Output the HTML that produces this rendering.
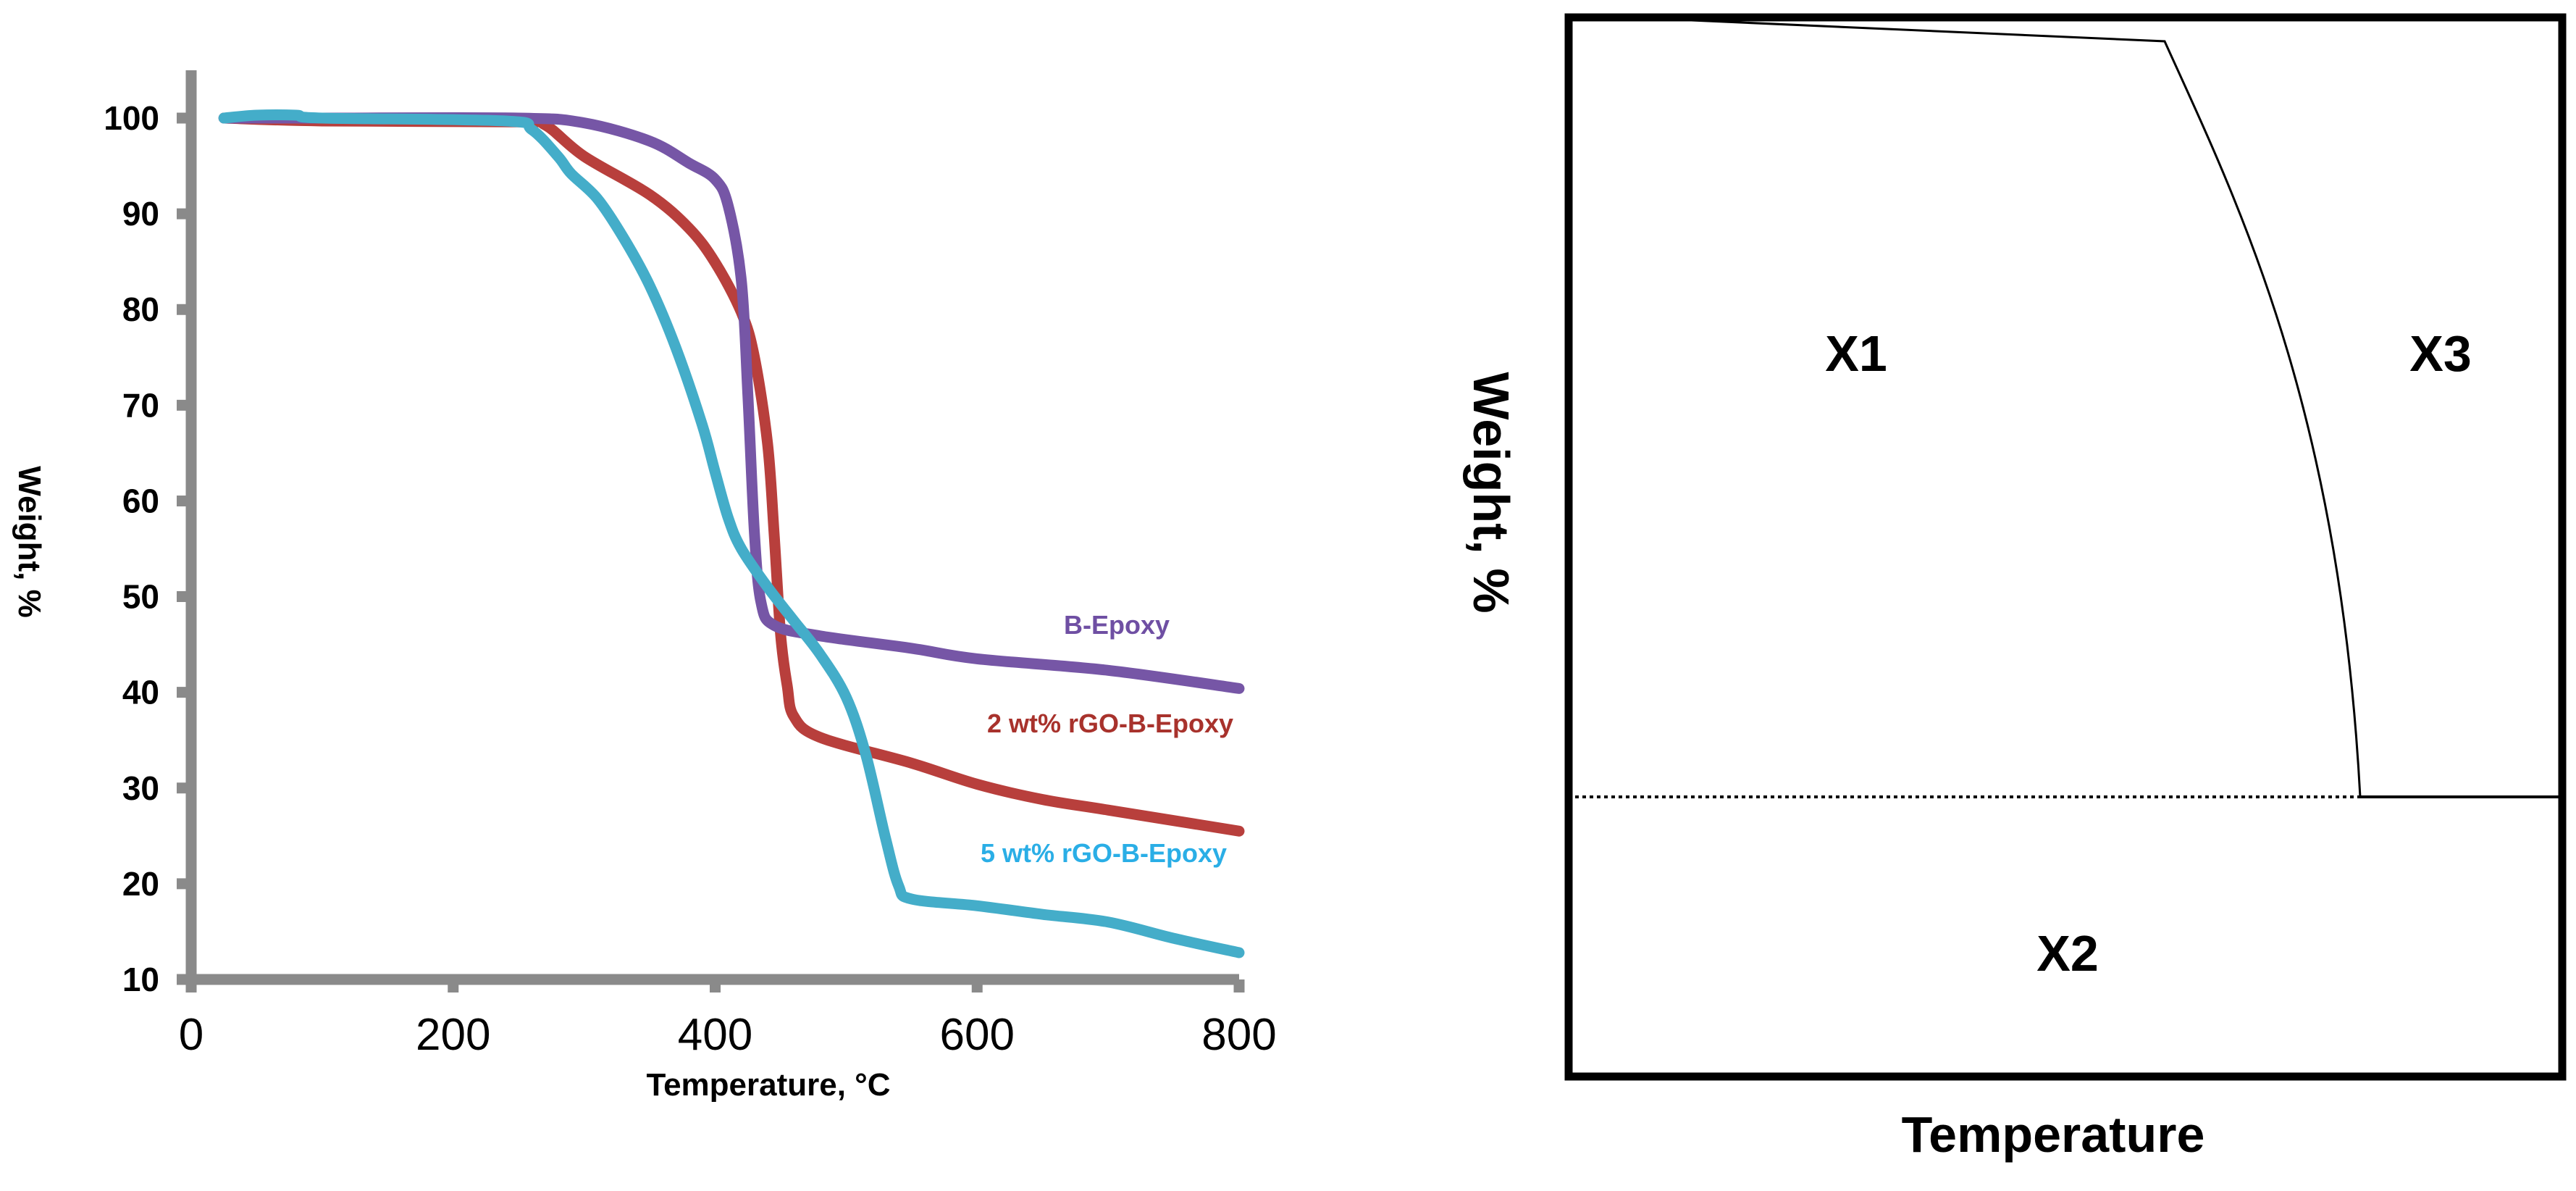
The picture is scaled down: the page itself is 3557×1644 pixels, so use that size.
<!DOCTYPE html>
<html><head><meta charset="utf-8"><style>
html,body{margin:0;padding:0;background:#fff;}
svg{display:block;font-family:"Liberation Sans",Arial,sans-serif;}
</style></head><body>
<svg id="fig" width="3557" height="1644" viewBox="0 0 3557 1644">
<g id="left"></g>
<g id="right">
  <rect x="2166" y="24" width="1372" height="1462" fill="none" stroke="#000" stroke-width="11"/>
  <path d="M2313,27 L2989,57 C3090,280 3230,560 3259,1100" fill="none" stroke="#000" stroke-width="3"/>
  <line x1="3259" y1="1100" x2="3533" y2="1100" stroke="#000" stroke-width="4"/>
  <line x1="2175" y1="1100" x2="3259" y2="1100" stroke="#000" stroke-width="4" stroke-dasharray="5,5"/>
  <text x="2563" y="512" font-size="70" font-weight="bold" text-anchor="middle">X1</text>
  <text x="3370" y="512" font-size="70" font-weight="bold" text-anchor="middle">X3</text>
  <text x="2855" y="1340" font-size="70" font-weight="bold" text-anchor="middle">X2</text>
  <text transform="translate(2035,680) rotate(90)" font-size="70" font-weight="bold" text-anchor="middle">Weight, %</text>
  <text x="2835" y="1590" font-size="70" font-weight="bold" text-anchor="middle">Temperature</text>
</g>
</svg>
<script>
const xTicks=[0,200,400,800,600];
const yTicks=[10,20,30,40,50,60,70,80,90,100];
const tB=[25,100,250,300,350,380,400,410,420,425,430,435,445,480,550,600,700,800];
const wB=[100,100,100,99.5,97.6,95.3,93.6,90.8,83,71,56.6,49.4,47,45.9,44.6,43.5,42.3,40.4];
const tR=[25,100,250,270,300,350,380,400,420,430,440,445,450,455,460,480,550,600,650,700,800];
const wR=[100,99.7,99.6,99.3,96,92,88.5,84.9,79.7,75,66,56.6,46,40.7,37.5,35.3,32.6,30.4,28.8,27.7,25.5];
const tC=[25,50,80,100,240,260,280,290,310,330,350,370,390,400,410,420,440,460,480,500,515,530,540,550,600,650,700,750,800];
const wC=[100,100.3,100.3,100,99.7,98.8,96,94.2,91.6,87.5,82.5,76,68,63,58.2,55,51,47.5,44,39.5,33.5,24.8,19.8,18.4,17.7,16.8,16,14.3,12.8];
const NS="http://www.w3.org/2000/svg";
const X=t=>264+(t/800)*(1711-264);
const Y=w=>1352-(w-10)*(1352-163)/90;
const L=document.getElementById('left');
function el(tag,attrs,parent){const e=document.createElementNS(NS,tag);for(const k in attrs)e.setAttribute(k,attrs[k]);(parent||L).appendChild(e);return e;}
let a=el('line',{x1:264,y1:97,x2:264,y2:1360,stroke:'#8a8a8a','stroke-width':15});


a=el('line',{x1:257,y1:1352,x2:1711,y2:1352,stroke:'#8a8a8a','stroke-width':15});


yTicks.forEach(v=>{
  const t=el('line',{x1:244,y1:Y(v),x2:264,y2:Y(v),stroke:'#8a8a8a','stroke-width':15});
  
  
  const s=el('text',{x:220,y:Y(v)+16,'font-size':46,'font-weight':'bold','text-anchor':'end'});
  s.textContent=v;
  
  
});
xTicks.forEach(v=>{
  const t=el('line',{x1:X(v),y1:1352,x2:X(v),y2:1370,stroke:'#8a8a8a','stroke-width':15});
  
  
  const s=el('text',{x:X(v),y:1449,'font-size':62,'text-anchor':'middle'});
  s.textContent=v;
  
  
});
function smooth(ts,ws){
  const p=ts.map((t,i)=>[X(t),Y(ws[i])]);
  let d='M'+p[0][0]+','+p[0][1];
  for(let i=0;i<p.length-1;i++){
    const p0=p[i-1]||p[i],p1=p[i],p2=p[i+1],p3=p[i+2]||p2;
    const c1=[p1[0]+(p2[0]-p0[0])/6,p1[1]+(p2[1]-p0[1])/6];
    const c2=[p2[0]-(p3[0]-p1[0])/6,p2[1]-(p3[1]-p1[1])/6];
    d+=` C${c1[0]},${c1[1]} ${c2[0]},${c2[1]} ${p2[0]},${p2[1]}`;
  }
  return d;
}
let s=el('path',{d:smooth(tR,wR),fill:'none',stroke:'#b83f3c','stroke-width':15,'stroke-linecap':'round','stroke-linejoin':'round'});


s=el('path',{d:smooth(tB,wB),fill:'none',stroke:'#7656a6','stroke-width':15,'stroke-linecap':'round','stroke-linejoin':'round'});


s=el('path',{d:smooth(tC,wC),fill:'none',stroke:'#44adc9','stroke-width':15,'stroke-linecap':'round','stroke-linejoin':'round'});


const labs=[['B-Epoxy',1542,875,'#6f4fa3','label-b-epoxy'],['2 wt% rGO-B-Epoxy',1533,1011,'#a8322c','label-2wt'],['5 wt% rGO-B-Epoxy',1524,1190,'#2aaee6','label-5wt']];
labs.forEach(l=>{
  const t=el('text',{x:l[1],y:l[2],'font-size':36,'font-weight':'bold','text-anchor':'middle',fill:l[3]});
  t.textContent=l[0];
  
  
});
let tt=el('text',{x:1061,y:1512,'font-size':44,'font-weight':'bold','text-anchor':'middle'});
tt.textContent='Temperature, °C';


tt=el('text',{transform:'translate(26,748) rotate(90)','font-size':44,'font-weight':'bold','text-anchor':'middle'});
tt.textContent='Weight, %';


</script>
</body></html>
